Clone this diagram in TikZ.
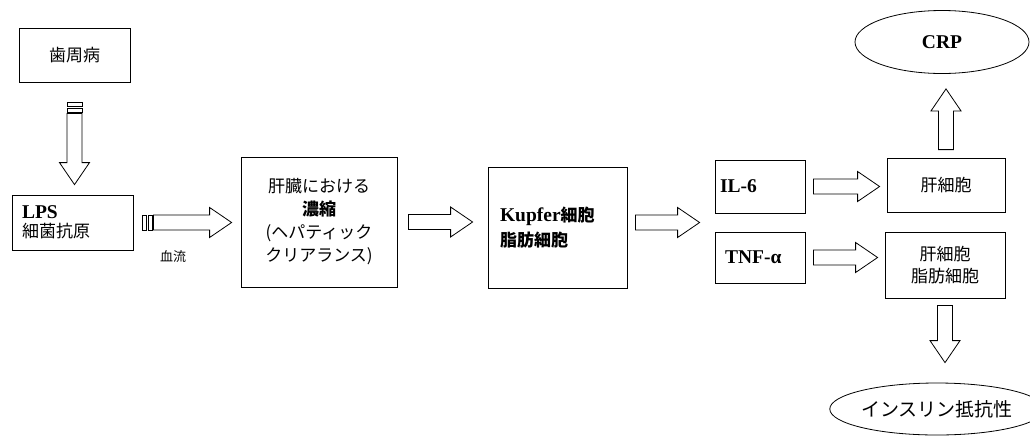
\documentclass[tikz,border=0pt]{standalone}
\usepackage{fontspec}
\setmainfont{Liberation Serif}
\newfontfamily\jp{Noto Sans CJK JP}
\usetikzlibrary{calc,shapes.geometric}

\tikzset{
    box/.style={draw, line width=0.8pt, inner xsep=10pt, font=\jp\fontsize{17}{22}\selectfont},
    oval/.style={draw, ellipse, line width=0.8pt, inner sep=0pt, font=\jp\fontsize{17}{22}\selectfont},
    blockline/.style={draw, fill=white, line width=0.8pt, line join=miter},
}
\newcommand{\lat}[1]{{\rmfamily\bfseries\fontsize{19.5}{22}\selectfont #1}}

% Hollow arrow from tail #1 to tip #2
\newcommand{\blockarrow}[2]{%
    \coordinate (ba-s) at #1;
    \coordinate (ba-t) at #2;
    \coordinate (ba-b) at ($(ba-t)!22pt!(ba-s)$);
    \draw[blockline] ($(ba-s)!7.5pt!90:(ba-t)$) -- ($(ba-b)!7.5pt!-90:(ba-s)$)
        -- ($(ba-b)!15pt!-90:(ba-s)$) -- (ba-t) -- ($(ba-b)!15pt!90:(ba-s)$)
        -- ($(ba-b)!7.5pt!90:(ba-s)$) -- ($(ba-s)!7.5pt!-90:(ba-t)$) -- cycle;}

% Two small bars behind the last arrow tail
\newcommand{\tailbars}{%
    \foreach \a/\b in {1.5/5.5, 7/11} {
        \coordinate (bb-p) at ($(ba-s)!-\a pt!(ba-t)$);
        \coordinate (bb-q) at ($(ba-s)!-\b pt!(ba-t)$);
        \draw[blockline] ($(bb-p)!7.5pt!90:(ba-t)$) -- ($(bb-p)!7.5pt!-90:(ba-t)$)
            -- ($(bb-q)!7.5pt!-90:(ba-t)$) -- ($(bb-q)!7.5pt!90:(ba-t)$) -- cycle;
    }}

\begin{document}
\begin{tikzpicture}[x=1pt, y=-1pt]

    % Frame
    \useasboundingbox (0,0) rectangle (1030,437);

    % Boxes
    \node[box, minimum width=111pt, minimum height=54pt] (perio) at (74.5,55) {歯周病};
    \node[box, minimum width=121pt, minimum height=55pt, text width=101pt, align=left,
        font=\jp\fontsize{17}{19}\selectfont] (lps) at (72.5,222.5) {\lat{LPS}\\細菌抗原};
    \node[box, minimum width=156pt, minimum height=130pt, align=center,
        font=\jp\fontsize{17}{23}\selectfont] (liver) at (319,222)
        {肝臓における\\{\bfseries 濃縮}\\(ヘパティック\\クリアランス)};
    \node[box, minimum width=139pt, minimum height=121pt, text width=115pt, align=left,
        font=\jp\bfseries\fontsize{17}{25}\selectfont] (kupfer) at (557.5,227.5) {\lat{Kupfer}細胞\\脂肪細胞};
    \node[box, minimum width=90pt, minimum height=53pt, inner xsep=5pt, text width=80pt,
        align=left] (il6) at (760,186.5) {\lat{IL-6}};
    \node[box, minimum width=90pt, minimum height=51pt, text width=70pt,
        align=left] (tnf) at (760,257.5) {\lat{TNF-α}};
    \node[box, minimum width=118pt, minimum height=54pt] (hep) at (946,185) {肝細胞};
    \node[box, minimum width=120pt, minimum height=66pt, align=center] (hepfat) at (945,265) {肝細胞\\脂肪細胞};

    % Results
    \node[oval, minimum width=174pt, minimum height=63pt] (crp) at (942,42) {\lat{CRP}};
    \node[oval, minimum width=184pt, minimum height=52pt,
        font=\jp\fontsize{19}{22}\selectfont] (insulin) at (937,409) {インスリン抵抗性};

    % Label
    \node[font=\jp\fontsize{13}{16}\selectfont] (flow) at (173,257) {血流};

    % Arrows
    \blockarrow{($(perio.south)+(0,31)$)}{($(perio.south |- lps.north)+(0,-10)$)}
    \tailbars
    \blockarrow{($(lps.east)+(20,0)$)}{($(liver.west |- lps.east)+(-9,0)$)}
    \tailbars
    \blockarrow{($(liver.east)+(11,0)$)}{($(kupfer.west |- liver.east)+(-15,0)$)}
    \coordinate (cyto) at ($(il6.south west)!0.5!(tnf.north west)$);
    \blockarrow{($(kupfer.east |- cyto)+(8,0)$)}{($(cyto)+(-15,0)$)}
    \blockarrow{($(il6.east)+(8,0)$)}{($(hep.west |- il6.east)+(-7,0)$)}
    \blockarrow{($(tnf.east)+(8,0)$)}{($(hepfat.west |- tnf.east)+(-7,0)$)}
    \blockarrow{($(hep.north)+(0,-8)$)}{($(hep.north |- crp.south)+(0,15)$)}
    \blockarrow{($(hepfat.south)+(0,7)$)}{($(hepfat.south |- insulin.north)+(0,-20)$)}

\end{tikzpicture}
\end{document}
